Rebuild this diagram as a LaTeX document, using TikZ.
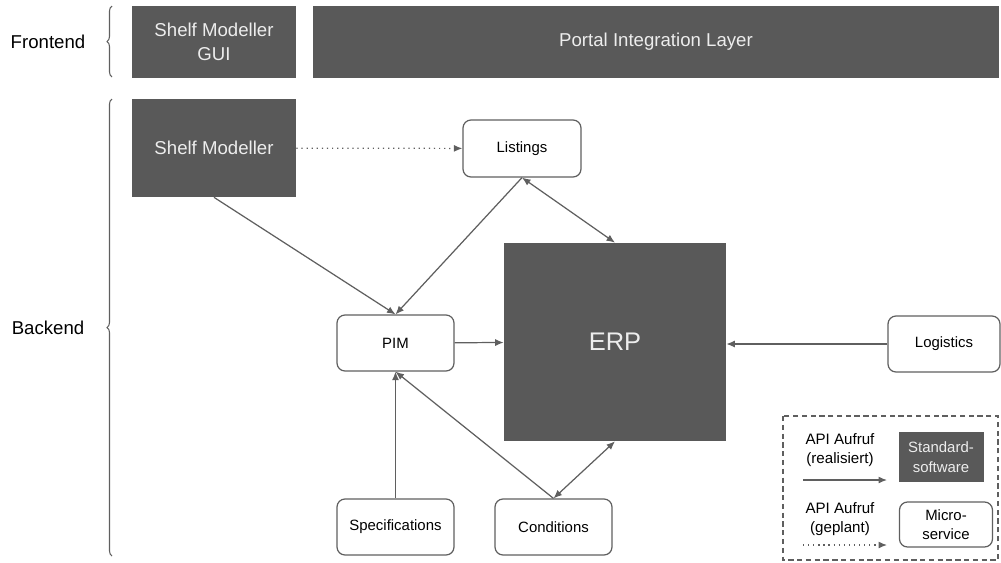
\documentclass[tikz,border=0pt]{standalone}
\usepackage{fontspec}
\setmainfont{Liberation Sans}
\usetikzlibrary{positioning,arrows.meta,decorations.pathreplacing}

\definecolor{darkbox}{HTML}{595959}
\definecolor{edgegray}{HTML}{5F5F5F}

\begin{document}
\begin{tikzpicture}[
        x=0.02cm, y=-0.02cm,
        layer/.style={font=\fontsize{10.6}{12.5}\selectfont},
        stdsw/.style={fill=darkbox, text=white!93!black, align=center, inner sep=0pt,
            font=\fontsize{10.6}{14}\selectfont},
        msvc/.style={draw=edgegray, line width=0.7pt, rounded corners=0.16cm, align=center,
            inner sep=0pt, font=\fontsize{8.5}{10.5}\selectfont},
        api/.style={draw=edgegray, line width=0.7pt, -{Latex[length=1.7mm,width=1.4mm]}},
        apidbl/.style={api, {Latex[length=1.7mm,width=1.4mm]}-{Latex[length=1.7mm,width=1.4mm]}},
        planned/.style={api, dash pattern=on 0.7pt off 2.2pt},
        grpbrace/.style={draw=edgegray, line width=0.6pt, decorate, decoration={brace, amplitude=0.1cm}}
    ]
    \useasboundingbox (0,0) rectangle (1001,562);

    % frontend
    \node[layer] (frontend) at (48,42) {Frontend};
    \node[stdsw, minimum width=3.28cm, minimum height=1.44cm] (gui) at (214,42) {Shelf Modeller\\GUI};
    \node[stdsw, minimum width=13.72cm, minimum height=1.44cm] (portal) at (656,42) {Portal Integration Layer};
    \draw[grpbrace] (112,77) -- (112,6);

    % backend
    \node[layer] (backend) at (48,328) {Backend};
    \draw[grpbrace] (112,556) -- (112,99);
    \node[stdsw, minimum width=3.28cm, minimum height=1.96cm] (shelf) at (214,148) {Shelf Modeller};
    \node[msvc, minimum width=2.36cm, minimum height=1.14cm] (listings) at (522,148.5) {Listings};
    \node[stdsw, minimum width=4.44cm, minimum height=3.96cm,
        font=\fontsize{14.5}{16}\selectfont] (erp) at (615,342) {ERP};
    \node[msvc, minimum width=2.34cm, minimum height=1.12cm] (pim) at (395.5,343) {PIM};
    \node[msvc, minimum width=2.24cm, minimum height=1.12cm] (logistics) at (944,344) {Logistics};
    \node[msvc, minimum width=2.34cm, minimum height=1.12cm] (specs) at (395.5,527) {Specifications};
    \node[msvc, minimum width=2.34cm, minimum height=1.12cm] (conditions) at (553.5,527) {Conditions};

    \draw[planned] (shelf) -- (listings);
    \draw[api] (shelf.south) -- (pim.north);
    \draw[api] (listings.south) -- (pim.north);
    \draw[apidbl] (listings.south) -- (erp.north);
    \draw[api] (pim) -- (erp);
    \draw[api] (logistics.west) -- (erp.east |- logistics.west);
    \draw[api] (specs) -- (pim);
    \draw[api] (conditions.north) -- (pim.south);
    \draw[apidbl] (conditions.north) -- (erp.south);

    % legend
    \draw[edgegray, line width=0.6pt, dash pattern=on 3pt off 2pt] (783,416) rectangle (998,560);
    \node[msvc, draw=none, font=\fontsize{8.6}{11}\selectfont] (realised) at (840,450) {API Aufruf\\(realisiert)};
    \node[stdsw, minimum width=1.7cm, minimum height=1.0cm,
        font=\fontsize{8.5}{11}\selectfont] (stdbox) at (941,457) {Standard-\\software};
    \coordinate (ra) at (803,480);
    \coordinate (rb) at (887,480);
    \draw[api] (ra) -- (rb);
    \node[msvc, draw=none, font=\fontsize{8.6}{11}\selectfont] (plannedtxt) at (840,519) {API Aufruf\\(geplant)};
    \node[msvc, minimum width=1.86cm, minimum height=0.9cm] (msbox) at (946,524.5) {Micro-\\service};
    \coordinate (pa) at (803,545);
    \coordinate (pb) at (887,545);
    \draw[planned] (pa) -- (pb);
\end{tikzpicture}
\end{document}
